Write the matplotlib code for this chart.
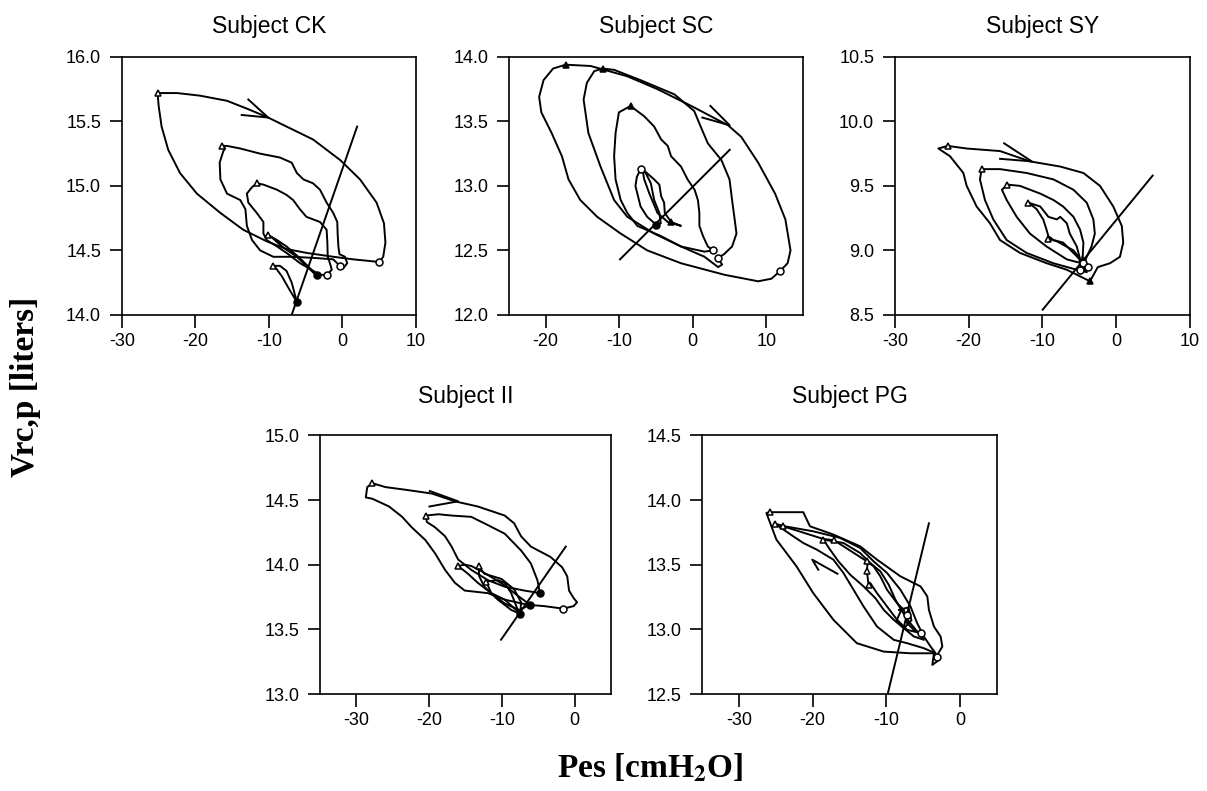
import numpy as np
import matplotlib.pyplot as plt

plt.rcParams['font.family'] = ['Liberation Sans', 'DejaVu Sans']
plt.rcParams['mathtext.fontset'] = 'stix'
plt.rcParams['axes.unicode_minus'] = False

# Each loop is a list of (Pes [cmH2O], Vrc,p [liters]) samples of one breath.

# ---- Subject CK ----
ck_loops = [
    [(-25.15, 15.72), (-22.5, 15.72), (-19.4, 15.70), (-15.7, 15.66), (-12.6, 15.59),
     (-10.1, 15.53), (-7.6, 15.46), (-4.0, 15.36), (-0.3, 15.20), (2.4, 15.05),
     (4.65, 14.87), (5.65, 14.71), (5.85, 14.56), (5.55, 14.45), (5.0, 14.41),
     (1.5, 14.43), (-1.2, 14.45), (-4.85, 14.48), (-7.6, 14.51), (-10.3, 14.57),
     (-13.5, 14.66), (-16.6, 14.79), (-19.8, 14.94), (-22.1, 15.10), (-23.7, 15.28),
     (-24.6, 15.46), (-25.0, 15.62), (-25.15, 15.72)],
    [(-16.4, 15.31), (-15.7, 15.31), (-13.9, 15.29), (-11.2, 15.25), (-8.5, 15.22),
     (-6.9, 15.18), (-6.2, 15.10), (-5.3, 15.05), (-4.0, 15.02), (-3.05, 14.97),
     (-2.15, 14.87), (-1.25, 14.79), (-0.7, 14.72), (-0.65, 14.63), (-0.55, 14.53),
     (-0.4, 14.47), (0.35, 14.45), (0.65, 14.40), (0.1, 14.36), (-0.35, 14.38),
     (-1.25, 14.43), (-3.5, 14.44), (-6.7, 14.45), (-9.4, 14.45), (-11.2, 14.50),
     (-12.3, 14.58), (-13.0, 14.69), (-13.2, 14.82), (-13.9, 14.89), (-15.7, 14.94),
     (-16.6, 15.05), (-16.7, 15.18), (-16.2, 15.27), (-15.95, 15.29), (-16.4, 15.31)],
    [(-11.65, 15.02), (-10.75, 15.01), (-8.9, 14.97), (-7.6, 14.93), (-6.7, 14.89),
     (-5.8, 14.82), (-4.9, 14.76), (-3.05, 14.72), (-2.15, 14.66), (-2.05, 14.56),
     (-2.0, 14.45), (-1.7, 14.40), (-1.45, 14.35), (-2.1, 14.31), (-3.05, 14.31),
     (-3.95, 14.34), (-5.75, 14.40), (-7.6, 14.48), (-8.9, 14.53), (-10.3, 14.58),
     (-10.75, 14.63), (-10.75, 14.72), (-11.65, 14.79), (-12.8, 14.87), (-13.0, 14.94),
     (-12.3, 14.99), (-11.65, 15.02)],
    [(-10.15, 14.62), (-8.9, 14.58), (-7.6, 14.53), (-5.8, 14.44), (-4.4, 14.36),
     (-3.5, 14.31), (-4.0, 14.33), (-6.2, 14.45), (-8.0, 14.52), (-9.6, 14.60),
     (-10.15, 14.62)],
    [(-9.4, 14.38), (-8.5, 14.38), (-7.6, 14.34), (-6.9, 14.25), (-6.2, 14.10),
     (-7.15, 14.19), (-8.25, 14.30), (-9.15, 14.37), (-9.4, 14.38)],
]
ck_tri = [(-25.15, 15.72), (-16.4, 15.31), (-11.65, 15.02), (-10.15, 14.62), (-9.4, 14.38)]
ck_circ = [(5.0, 14.41), (-0.35, 14.38), (-2.1, 14.31)]
ck_dot = [(-3.5, 14.31), (-6.2, 14.10)]
ck_fit = [(-6.9, 14.0), (2.0, 15.46)]
ck_arrow = [(-12.8, 15.67), (-10.1, 15.53), (-13.7, 15.55)]

# ---- Subject SC ----
sc_loops = [
    [(-17.3, 13.94), (-13.9, 13.93), (-8.9, 13.85), (-4.8, 13.75), (-0.2, 13.62),
     (4.8, 13.47), (6.6, 13.38), (8.9, 13.18), (11.2, 12.94), (12.6, 12.74),
     (13.3, 12.50), (12.9, 12.40), (11.9, 12.34), (10.7, 12.28), (8.9, 12.26),
     (4.35, 12.31), (-1.6, 12.40), (-6.2, 12.50), (-9.8, 12.63), (-13.0, 12.76),
     (-15.3, 12.89), (-16.9, 13.05), (-17.8, 13.23), (-19.2, 13.41), (-20.6, 13.57),
     (-20.9, 13.69), (-20.3, 13.82), (-19.0, 13.91), (-17.3, 13.94)],
    [(-12.25, 13.91), (-10.7, 13.90), (-7.1, 13.82), (-2.5, 13.71), (0.2, 13.58),
     (1.15, 13.45), (2.05, 13.33), (3.9, 13.20), (5.0, 13.05), (5.35, 12.89),
     (5.7, 12.74), (5.95, 12.63), (5.35, 12.53), (4.25, 12.47), (3.4, 12.44),
     (4.0, 12.39), (3.45, 12.37), (1.6, 12.45), (-1.6, 12.53), (-5.25, 12.63),
     (-8.9, 12.76), (-10.7, 12.89), (-12.55, 13.15), (-14.2, 13.41), (-14.85, 13.67),
     (-14.4, 13.80), (-13.4, 13.89), (-12.25, 13.91)],
    [(-8.45, 13.62), (-7.55, 13.58), (-6.6, 13.54), (-5.25, 13.46), (-4.3, 13.36),
     (-3.4, 13.31), (-2.95, 13.23), (-1.6, 13.15), (-0.7, 13.05), (0.25, 12.97),
     (0.7, 12.89), (0.9, 12.79), (0.9, 12.69), (1.4, 12.61), (2.05, 12.53),
     (2.75, 12.50), (1.6, 12.49), (-1.6, 12.53), (-4.3, 12.61), (-7.55, 12.69),
     (-8.9, 12.79), (-9.8, 12.89), (-10.5, 13.05), (-10.7, 13.23), (-10.5, 13.41),
     (-10.05, 13.57), (-9.1, 13.60), (-8.45, 13.62)],
    [(-7.1, 13.13), (-6.4, 13.10), (-5.7, 13.02), (-5.25, 12.89), (-4.55, 12.79),
     (-4.35, 12.71), (-5.0, 12.70), (-6.2, 12.76), (-7.1, 12.84), (-7.8, 13.00),
     (-7.6, 13.07), (-7.1, 13.13)],
    [(-6.85, 13.13), (-5.25, 13.05), (-4.55, 13.01), (-4.3, 12.92), (-3.9, 12.87),
     (-3.8, 12.79), (-2.95, 12.72), (-1.6, 12.69), (-3.4, 12.72), (-4.8, 12.79),
     (-5.9, 12.94), (-6.6, 13.05), (-6.85, 13.13)],
]
sc_tri_filled = [(-17.3, 13.94), (-12.25, 13.91), (-8.45, 13.62), (-2.95, 12.72)]
sc_circ = [(11.9, 12.34), (3.4, 12.44), (2.75, 12.50), (-7.0, 13.13)]
sc_dot = [(-5.0, 12.70)]
sc_fit = [(-9.9, 12.43), (5.03, 13.28)]
sc_arrow = [(2.4, 13.62), (5.03, 13.47), (1.3, 13.53)]

# ---- Subject SY ----
sy_loops = [
    [(-22.86, 9.81), (-20.3, 9.79), (-15.75, 9.77), (-11.7, 9.69), (-7.6, 9.65),
     (-4.45, 9.60), (-2.2, 9.50), (-0.4, 9.34), (0.75, 9.19), (0.95, 9.06),
     (0.5, 8.95), (-0.85, 8.90), (-2.5, 8.87), (-3.56, 8.76), (-6.72, 8.85),
     (-9.43, 8.90), (-13.05, 8.98), (-15.76, 9.08), (-17.12, 9.21), (-18.93, 9.34),
     (-20.28, 9.50), (-20.73, 9.60), (-22.54, 9.73), (-24.12, 9.79), (-22.86, 9.81)],
    [(-18.25, 9.63), (-15.75, 9.63), (-12.15, 9.60), (-8.5, 9.55), (-5.8, 9.47),
     (-4.0, 9.37), (-3.1, 9.24), (-2.9, 9.13), (-3.35, 9.03), (-4.0, 8.95),
     (-4.45, 8.88), (-5.37, 8.85), (-8.53, 8.90), (-12.15, 8.98), (-14.86, 9.08),
     (-16.67, 9.24), (-17.8, 9.39), (-18.48, 9.55), (-18.25, 9.63)],
    [(-14.75, 9.51), (-13.05, 9.50), (-10.3, 9.44), (-8.5, 9.39), (-7.2, 9.34),
     (-5.8, 9.26), (-4.9, 9.16), (-4.45, 9.06), (-4.55, 8.95), (-4.7, 8.90),
     (-6.7, 8.93), (-9.45, 9.03), (-11.7, 9.13), (-13.5, 9.26), (-14.85, 9.39),
     (-15.5, 9.47), (-14.75, 9.51)],
    [(-11.9, 9.37), (-10.3, 9.34), (-9.2, 9.26), (-8.05, 9.24), (-7.6, 9.26),
     (-6.7, 9.21), (-6.3, 9.13), (-5.35, 9.03), (-4.9, 8.93), (-4.45, 8.90),
     (-5.8, 8.98), (-7.2, 9.06), (-8.5, 9.08), (-9.2, 9.11), (-9.45, 9.16),
     (-9.9, 9.24), (-10.8, 9.32), (-11.9, 9.37)],
    [(-9.2, 9.09), (-8.05, 9.07), (-5.8, 9.00), (-4.45, 8.90), (-5.0, 8.92),
     (-4.2, 8.86), (-4.8, 8.82), (-3.9, 8.88), (-4.6, 8.95), (-4.0, 8.83),
     (-5.1, 8.85), (-4.3, 8.92), (-3.6, 8.85)],
]
sy_tri = [(-22.86, 9.81), (-18.25, 9.63), (-14.75, 9.51), (-11.9, 9.37), (-9.2, 9.09)]
sy_circ = [(-4.5, 8.90), (-3.8, 8.87), (-4.9, 8.85)]
sy_tri_filled = [(-3.56, 8.76)]
sy_fit = [(-9.97, 8.54), (4.94, 9.58)]
sy_arrow = [(-15.2, 9.83), (-11.45, 9.69), (-15.75, 9.71)]

# ---- Subject II ----
ii_loops = [
    [(-27.8, 14.63), (-26.0, 14.60), (-23.3, 14.58), (-19.6, 14.55), (-16.45, 14.49),
     (-13.3, 14.45), (-9.6, 14.38), (-8.3, 14.32), (-7.35, 14.22), (-6.0, 14.14),
     (-3.3, 14.06), (-1.7, 13.98), (-1.0, 13.91), (-0.75, 13.80), (-0.1, 13.74),
     (0.35, 13.71), (-0.1, 13.68), (-1.55, 13.66), (-4.2, 13.68), (-6.45, 13.69),
     (-9.6, 13.73), (-11.9, 13.78), (-15.1, 13.80), (-16.45, 13.86), (-17.8, 13.96),
     (-19.2, 14.09), (-20.5, 14.19), (-22.4, 14.29), (-23.7, 14.37), (-25.5, 14.45),
     (-27.8, 14.51), (-28.7, 14.52), (-28.5, 14.60), (-27.8, 14.63)],
    [(-20.45, 14.38), (-18.7, 14.39), (-16.9, 14.38), (-14.2, 14.37), (-12.4, 14.32),
     (-9.6, 14.24), (-7.35, 14.11), (-6.0, 14.01), (-5.1, 13.88), (-4.75, 13.78),
     (-6.9, 13.80), (-9.6, 13.83), (-11.9, 13.88), (-14.2, 13.96), (-16.0, 14.04),
     (-16.9, 14.14), (-17.8, 14.22), (-19.2, 14.29), (-20.3, 14.33), (-20.45, 14.38)],
    [(-16.0, 13.99), (-15.1, 14.00), (-14.2, 13.99), (-12.8, 13.95), (-11.0, 13.89),
     (-9.6, 13.84), (-7.8, 13.76), (-6.1, 13.69), (-7.6, 13.65), (-9.6, 13.70),
     (-11.45, 13.78), (-13.3, 13.86), (-14.65, 13.93), (-16.0, 13.99)],
    [(-13.2, 13.99), (-12.4, 13.93), (-10.05, 13.89), (-8.3, 13.81), (-7.35, 13.71),
     (-7.45, 13.62), (-8.7, 13.65), (-10.55, 13.73), (-12.4, 13.83), (-13.1, 13.91),
     (-13.2, 13.99)],
    [(-12.15, 13.87), (-10.55, 13.88), (-9.6, 13.86), (-8.7, 13.78), (-7.8, 13.65),
     (-7.45, 13.62), (-9.6, 13.73), (-11.45, 13.78), (-12.15, 13.87)],
]
ii_tri = [(-27.8, 14.63), (-20.45, 14.38), (-16.0, 13.99), (-13.2, 13.99), (-12.15, 13.87)]
ii_circ = [(-1.55, 13.66)]
ii_dot = [(-4.75, 13.78), (-6.1, 13.69), (-7.45, 13.62)]
ii_fit = [(-10.1, 13.42), (-1.2, 14.14)]
ii_arrow = [(-19.9, 14.57), (-16.0, 14.49), (-19.95, 14.45)]

# ---- Subject PG ----
pg_loops = [
    [(-25.82, 13.906), (-21.27, 13.906), (-20.36, 13.797), (-17.18, 13.733),
     (-13.55, 13.642), (-11.27, 13.539), (-8.09, 13.410), (-5.36, 13.332),
     (-4.45, 13.255), (-4.23, 13.151), (-3.55, 13.022), (-2.64, 12.944),
     (-2.41, 12.867), (-3.09, 12.802), (-2.86, 12.764), (-3.77, 12.725),
     (-3.55, 12.815), (-6.73, 12.815), (-10.36, 12.828), (-14.0, 12.893),
     (-17.18, 13.074), (-19.91, 13.280), (-22.18, 13.487), (-24.91, 13.694),
     (-26.27, 13.900), (-25.82, 13.906)],
    [(-25.14, 13.818), (-23.77, 13.797), (-19.91, 13.758), (-16.27, 13.707),
     (-13.55, 13.629), (-11.73, 13.526), (-9.91, 13.436), (-8.09, 13.306),
     (-6.73, 13.177), (-5.82, 13.048), (-4.91, 12.944), (-4.0, 12.867),
     (-3.32, 12.815), (-4.91, 12.854), (-7.18, 12.893), (-9.0, 12.919),
     (-11.27, 13.022), (-13.09, 13.177), (-14.45, 13.306), (-15.82, 13.436),
     (-17.18, 13.539), (-19.45, 13.617), (-21.27, 13.668), (-22.64, 13.720),
     (-25.14, 13.818)],
    [(-18.55, 13.694), (-15.82, 13.668), (-13.55, 13.590), (-12.18, 13.513),
     (-10.82, 13.449), (-9.68, 13.345), (-8.77, 13.229), (-7.86, 13.139),
     (-6.95, 13.061), (-5.82, 12.984), (-4.91, 12.919), (-6.27, 12.945),
     (-7.64, 13.009), (-9.0, 13.074), (-10.36, 13.151), (-11.5, 13.242),
     (-13.09, 13.332), (-14.91, 13.423), (-16.5, 13.526), (-17.64, 13.617),
     (-18.55, 13.694)],
    [(-24.0, 13.797), (-18.55, 13.699), (-17.09, 13.689), (-12.64, 13.526),
     (-11.73, 13.487), (-10.82, 13.410), (-9.91, 13.306), (-8.55, 13.203),
     (-7.64, 13.151), (-7.18, 13.048), (-6.27, 12.996), (-5.36, 12.971),
     (-7.18, 12.996), (-8.55, 13.074), (-9.91, 13.177), (-11.27, 13.280),
     (-12.18, 13.358), (-12.41, 13.345), (-12.64, 13.449), (-12.55, 13.513)],
    [(-16.64, 13.430), (-20.05, 13.539), (-19.23, 13.461)],
    [(-8.3, 13.15), (-7.0, 13.17), (-6.6, 13.07), (-7.6, 13.01), (-8.6, 13.07),
     (-7.9, 13.16)],
]
pg_tri = [(-25.82, 13.906), (-25.14, 13.818), (-24.0, 13.797), (-18.55, 13.694),
          (-17.09, 13.689), (-12.64, 13.526), (-12.64, 13.449), (-12.41, 13.345)]
pg_circ = [(-3.09, 12.789), (-5.36, 12.971), (-7.18, 13.113)]
pg_fit = [(-9.82, 12.5), (-4.23, 13.82)]

panels = [
    dict(title='Subject CK', rect=[0.101, 0.602, 0.2436, 0.326], pad=17,
         loops=ck_loops, fit=ck_fit, arrow=ck_arrow,
         marks=[(ck_tri, '^', 'white'), (ck_circ, 'o', 'white'), (ck_dot, 'o', 'black')],
         xlim=(-30, 10), ylim=(14.0, 16.0),
         xticks=[-30, -20, -10, 0, 10], yticks=[14.0, 14.5, 15.0, 15.5, 16.0]),
    dict(title='Subject SC', rect=[0.4217, 0.602, 0.2436, 0.326], pad=17,
         loops=sc_loops, fit=sc_fit, arrow=sc_arrow,
         marks=[(sc_tri_filled, '^', 'black'), (sc_circ, 'o', 'white'), (sc_dot, 'o', 'black')],
         xlim=(-25, 15), ylim=(12.0, 14.0),
         xticks=[-20, -10, 0, 10], yticks=[12.0, 12.5, 13.0, 13.5, 14.0]),
    dict(title='Subject SY', rect=[0.7415, 0.602, 0.2444, 0.326], pad=17,
         loops=sy_loops, fit=sy_fit, arrow=sy_arrow,
         marks=[(sy_tri, '^', 'white'), (sy_circ, 'o', 'white'), (sy_tri_filled, '^', 'black')],
         xlim=(-30, 10), ylim=(8.5, 10.5),
         xticks=[-30, -20, -10, 0, 10], yticks=[8.5, 9.0, 9.5, 10.0, 10.5]),
    dict(title='Subject II', rect=[0.2651, 0.1226, 0.2410, 0.327], pad=23,
         loops=ii_loops, fit=ii_fit, arrow=ii_arrow,
         marks=[(ii_tri, '^', 'white'), (ii_circ, 'o', 'white'), (ii_dot, 'o', 'black')],
         xlim=(-35, 5), ylim=(13.0, 15.0),
         xticks=[-30, -20, -10, 0], yticks=[13.0, 13.5, 14.0, 14.5, 15.0]),
    dict(title='Subject PG', rect=[0.5816, 0.1226, 0.2444, 0.327], pad=23,
         loops=pg_loops, fit=pg_fit, arrow=None,
         marks=[(pg_tri, '^', 'white'), (pg_circ, 'o', 'white')],
         xlim=(-35, 5), ylim=(12.5, 14.5),
         xticks=[-30, -20, -10, 0], yticks=[12.5, 13.0, 13.5, 14.0, 14.5]),
]

fig = plt.figure(figsize=(12.07, 7.91), dpi=100)

for p in panels:
    ax = fig.add_axes(p['rect'])
    for loop in p['loops']:
        x, y = np.array(loop).T
        ax.plot(x, y, color='black', lw=1.4, solid_joinstyle='round')
    fx, fy = np.array(p['fit']).T
    ax.plot(fx, fy, color='black', lw=1.4)
    if p['arrow'] is not None:
        axx, axy = np.array(p['arrow']).T
        ax.plot(axx, axy, color='black', lw=1.4)
    for pts, marker, face in p['marks']:
        mx, my = np.array(pts).T
        ax.plot(mx, my, ls='none', marker=marker, ms=5, mfc=face, mec='black', mew=1.1)

    ax.set_xlim(p['xlim'])
    ax.set_ylim(p['ylim'])
    ax.set_xticks(p['xticks'])
    ax.set_yticks(p['yticks'])
    ax.set_yticklabels(['%.1f' % v for v in p['yticks']])
    ax.tick_params(direction='out', length=9, width=1.2, labelsize=13,
                   top=False, right=False)
    ax.tick_params(axis='y', pad=6)
    ax.tick_params(axis='x', pad=4)
    for s in ax.spines.values():
        s.set_linewidth(1.2)
    ax.set_title(p['title'], fontsize=16.5, pad=p['pad'])

fig.text(0.0215, 0.511, 'Vrc,p [liters]', rotation=90, ha='center', va='center',
         family='Liberation Serif', fontweight='bold', fontsize=24)
fig.text(0.539, 0.029, r'Pes [cmH$_\mathbf{2}$O]', ha='center', va='center',
         family='Liberation Serif', fontweight='bold', fontsize=24)

fig.savefig('out.png', dpi=100)
